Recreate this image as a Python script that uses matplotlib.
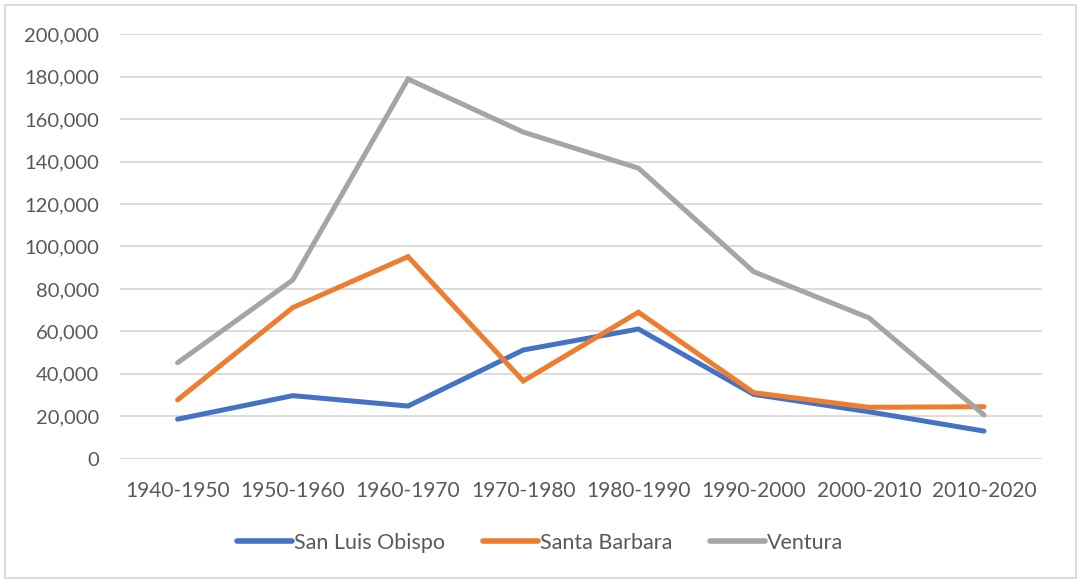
import matplotlib
matplotlib.use("Agg")
import matplotlib.pyplot as plt
from matplotlib.patches import Rectangle
from matplotlib.ticker import FuncFormatter

decades = ["1940-1950", "1950-1960", "1960-1970", "1970-1980",
           "1980-1990", "1990-2000", "2000-2010", "2010-2020"]
san_luis_obispo = [18600, 29700, 24800, 51200, 61100, 30300, 22100, 13000]
santa_barbara = [27700, 71200, 95200, 36600, 69000, 31100, 24200, 24500]
ventura = [45200, 84200, 178900, 153900, 136900, 88100, 66400, 20600]
series_names = ["San Luis Obispo", "Santa Barbara", "Ventura"]
colors = ["#4472C4", "#ED7D31", "#A5A5A5"]

plt.rcParams['font.family'] = ['Lato', 'DejaVu Sans']
text_color = "#595959"

fig = plt.figure(figsize=(10.81, 5.82), dpi=100)
ax = fig.add_axes([0.111, 0.2119, 0.8526, 0.7292])

x = list(range(len(decades)))
for vals, name, c in zip([san_luis_obispo, santa_barbara, ventura], series_names, colors):
    ax.plot(x, vals, color=c, lw=3.6, label=name, solid_capstyle='round', solid_joinstyle='miter')

ax.set_xlim(-0.5, len(decades) - 0.5)
ax.set_ylim(0, 200000)
ax.set_yticks(range(0, 200001, 20000))
ax.yaxis.set_major_formatter(FuncFormatter(lambda v, p: f"{int(v):,}"))
ax.set_xticks(x)
ax.set_xticklabels(decades)
ax.grid(axis='y', color="#D9D9D9", lw=1.3)
ax.set_axisbelow(True)
for s in ax.spines.values():
    s.set_visible(False)
ax.tick_params(axis='both', length=0, colors=text_color)
ax.tick_params(axis='y', pad=15, labelsize=14.5)
ax.tick_params(axis='x', pad=16, labelsize=15)

leg = fig.legend(loc='center', bbox_to_anchor=(0.5, 1 - 543 / 582), ncol=3, frameon=False,
                 fontsize=15.5, handlelength=2.55, handletextpad=0.1, columnspacing=1.75,
                 labelcolor=text_color)
for line in leg.get_lines():
    line.set_linewidth(4.0)

fig.patches.append(Rectangle((5 / 1081, 4 / 582), 1071 / 1081, 573 / 582,
                             transform=fig.transFigure, fill=False,
                             edgecolor="#D9D9D9", lw=1.3))

fig.savefig("out.png", dpi=100)
